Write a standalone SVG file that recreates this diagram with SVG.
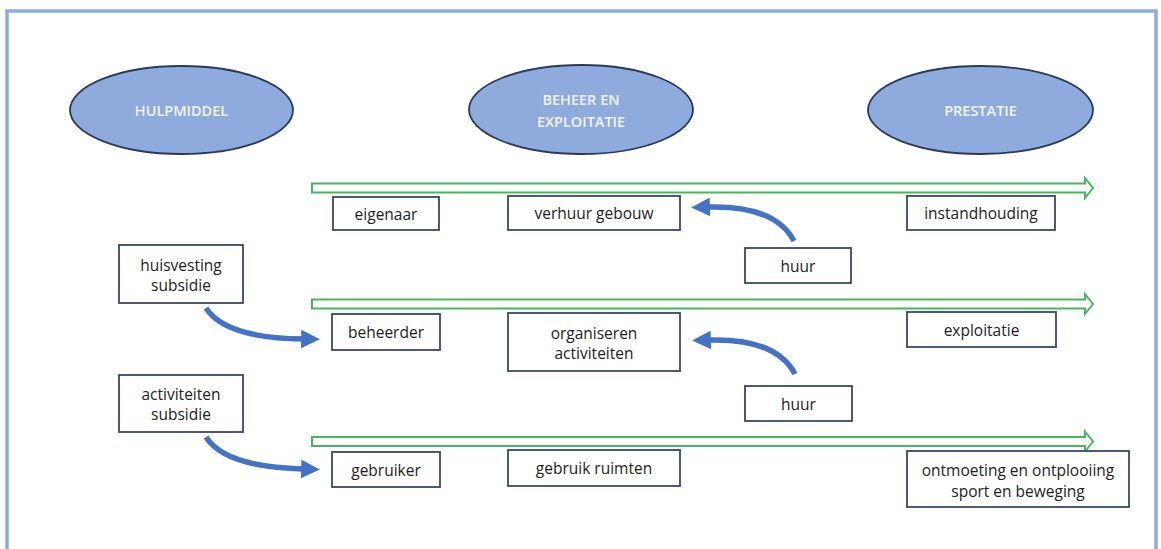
<svg xmlns="http://www.w3.org/2000/svg" width="1161" height="549" viewBox="0 0 1161 549">
<defs>
<style>
.frame{fill:none;stroke:#8FAADC;stroke-width:3.5}
.ell{fill:#8FAADC;stroke:#2B3A5A;stroke-width:1.8}
.etxt{font-family:"Open Sans","Liberation Sans",sans-serif;font-size:14.5px;font-weight:600;fill:#F2F5FB;text-anchor:middle;dominant-baseline:central}
.box{fill:#FFFFFF;stroke:#3A4768;stroke-width:1.8}
.btxt{font-family:"Open Sans","Liberation Sans",sans-serif;font-size:15.5px;font-weight:500;fill:#222222;text-anchor:middle;dominant-baseline:central}
.flow{fill:#FFFFFF;stroke:#45B75E;stroke-width:2}
.curve{fill:none;stroke:#4472C4;stroke-width:5.5;marker-end:url(#head)}
</style>
<marker id="head" viewBox="0 0 10 10" refX="1" refY="5" markerWidth="3.8" markerHeight="3.4" orient="auto" markerUnits="strokeWidth">
<path d="M0,0 L10,5 L0,10 Z" fill="#4472C4"/>
</marker>
</defs>
<rect width="1161" height="549" fill="#FFFFFF"/>
<rect class="frame" x="7" y="11" width="1149" height="600"/>

<g id="hulpmiddel"><ellipse class="ell" cx="181.5" cy="110" rx="111.5" ry="44"/><text class="etxt" x="181.5" y="110">HULPMIDDEL</text></g>
<g id="beheer"><ellipse class="ell" cx="581" cy="109.5" rx="112" ry="44.5"/><text class="etxt" x="581" y="99.5">BEHEER EN</text><text class="etxt" x="581" y="121.5">EXPLOITATIE</text></g>
<g id="prestatie"><ellipse class="ell" cx="980.5" cy="110" rx="112.5" ry="44"/><text class="etxt" x="980.5" y="110">PRESTATIE</text></g>

<g id="flow1"><path class="flow" d="M312,183.5 H1085 V178 L1093,188 L1085,198 V192.5 H312 Z"/></g>
<g id="flow2"><path class="flow" d="M312,299.5 H1085 V294 L1093,304 L1085,314 V308.5 H312 Z"/></g>
<g id="flow3"><path class="flow" d="M312,437 H1085 V431.5 L1093,441.5 L1085,451.5 V446 H312 Z"/></g>

<g id="eigenaar"><rect class="box" x="333" y="197" width="106" height="33"/><text class="btxt" x="386" y="213.5">eigenaar</text></g>
<g id="verhuur"><rect class="box" x="508" y="196" width="172" height="34"/><text class="btxt" x="594" y="213">verhuur gebouw</text></g>
<g id="instandhouding"><rect class="box" x="907" y="196" width="148" height="34"/><text class="btxt" x="981" y="213">instandhouding</text></g>
<g id="huur1"><rect class="box" x="745" y="248" width="106" height="35"/><text class="btxt" x="798" y="265.5">huur</text></g>
<g id="huisvesting"><rect class="box" x="119" y="245" width="124" height="58"/><text class="btxt" x="181" y="265">huisvesting</text><text class="btxt" x="181" y="285">subsidie</text></g>
<g id="beheerder"><rect class="box" x="332" y="314" width="108" height="36"/><text class="btxt" x="386" y="332">beheerder</text></g>
<g id="organiseren"><rect class="box" x="508" y="313" width="172" height="58"/><text class="btxt" x="594" y="333">organiseren</text><text class="btxt" x="594" y="353">activiteiten</text></g>
<g id="exploitatie"><rect class="box" x="907" y="312" width="149" height="35"/><text class="btxt" x="981.5" y="329.5">exploitatie</text></g>
<g id="huur2"><rect class="box" x="745" y="386" width="107" height="35"/><text class="btxt" x="798.5" y="403.5">huur</text></g>
<g id="activiteiten"><rect class="box" x="119" y="375" width="124" height="57"/><text class="btxt" x="181" y="394">activiteiten</text><text class="btxt" x="181" y="414">subsidie</text></g>
<g id="gebruiker"><rect class="box" x="332" y="452" width="108" height="35"/><text class="btxt" x="386" y="469.5">gebruiker</text></g>
<g id="gebruik"><rect class="box" x="508" y="450" width="172" height="36"/><text class="btxt" x="594" y="468">gebruik ruimten</text></g>
<g id="ontmoeting"><rect class="box" x="907" y="451" width="222" height="56"/><text class="btxt" x="1018" y="470">ontmoeting en ontplooiing</text><text class="btxt" x="1018" y="491">sport en beweging</text></g>

<g id="connectors">
<path class="curve" d="M794,241 Q775,205 708,207"/>
<path class="curve" d="M795,374 Q776,338 709,340"/>
<path class="curve" d="M206,308 Q225,338 303,339"/>
<path class="curve" d="M206,437 Q225,467 303,469"/>
</g>
</svg>
